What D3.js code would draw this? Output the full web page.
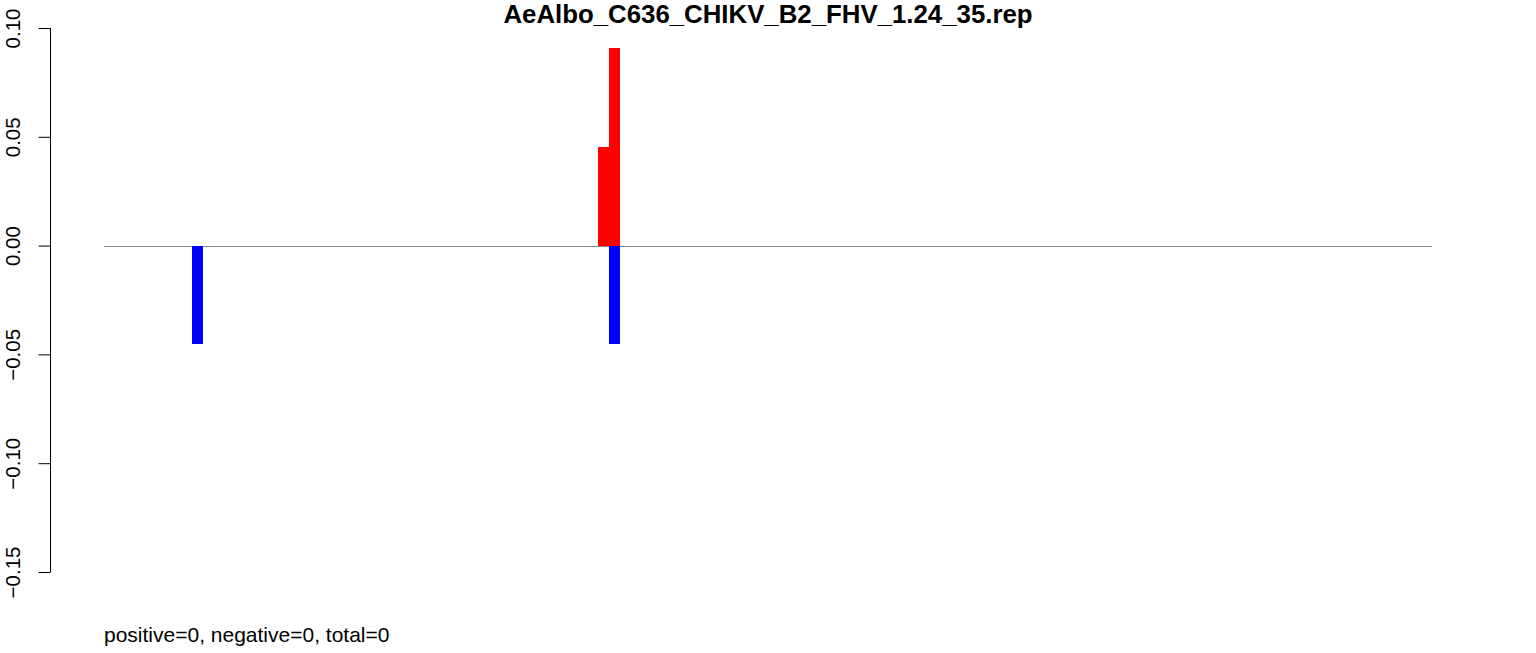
<!DOCTYPE html>
<html>
<head>
<meta charset="utf-8">
<script src="https://cdn.jsdelivr.net/npm/d3@7"></script>
<style>
  html, body { margin: 0; padding: 0; background: #fff; }
  svg { display: block; }
  text { font-family: "Liberation Sans", Arial, Helvetica, sans-serif; }
</style>
</head>
<body>
<svg id="chart" width="1536" height="653"></svg>
<script>
// ---- data ----
const title = "AeAlbo_C636_CHIKV_B2_FHV_1.24_35.rep";
const footer = "positive=0, negative=0, total=0";
const nPositions = 121;
const positiveIndex = [45, 46];
const positiveValues = [0.04545, 0.09091];
const negativeIndex = [8, 46];
const negativeValues = [-0.04545, -0.04545];
const yTicks = [-0.15, -0.10, -0.05, 0.00, 0.05, 0.10];
const yTickLabels = ["\u22120.15", "\u22120.10", "\u22120.05", "0.00", "0.05", "0.10"];

// ---- drawing ----
const svg = d3.select("#chart");
const x = d3.scaleLinear().domain([0, nPositions]).range([104, 1432]);
const y = d3.scaleLinear().domain([-0.15, 0.10]).range([572, 28]);

// baseline
svg.append("line")
  .attr("x1", x(0)).attr("x2", x(nPositions))
  .attr("y1", Math.round(y(0)) + 0.5).attr("y2", Math.round(y(0)) + 0.5)
  .attr("stroke", "#8a8a8a").attr("stroke-width", 1);

const pos = positiveIndex.map((d, i) => ({ i: d, v: positiveValues[i] }));
const neg = negativeIndex.map((d, i) => ({ i: d, v: negativeValues[i] }));

svg.append("g").selectAll("rect").data(pos).join("rect")
  .attr("x", d => x(d.i)).attr("width", d => x(d.i + 1) - x(d.i))
  .attr("y", d => y(d.v)).attr("height", d => y(0) - y(d.v))
  .attr("fill", "#ff0000").attr("shape-rendering", "crispEdges");

svg.append("g").selectAll("rect").data(neg).join("rect")
  .attr("x", d => x(d.i)).attr("width", d => x(d.i + 1) - x(d.i))
  .attr("y", y(0)).attr("height", d => y(d.v) - y(0))
  .attr("fill", "#0000ff").attr("shape-rendering", "crispEdges");

// y axis
const yAxis = d3.axisLeft(y).tickValues(yTicks).tickSize(12)
  .tickFormat((d, i) => yTickLabels[i]);
const gy = svg.append("g").attr("transform", "translate(50.5,0)").call(yAxis);
gy.select(".domain").attr("d", `M0,${y(-0.15)}V${y(0.10)}`).attr("stroke", "#000");
gy.selectAll(".tick line").attr("stroke", "#000").attr("x2", -12);
gy.selectAll(".tick text")
  .attr("font-size", 20.5)
  .attr("fill", "#000")
  .attr("x", null).attr("dy", null)
  .attr("text-anchor", "middle")
  .attr("transform", "translate(-38,0) rotate(-90)")
  .attr("dominant-baseline", "central");

// title
svg.append("text")
  .attr("x", 768).attr("y", 22.5)
  .attr("text-anchor", "middle")
  .attr("font-size", 25.8).attr("font-weight", "bold")
  .text(title);

// footer
svg.append("text")
  .attr("x", 104).attr("y", 642)
  .attr("font-size", 21)
  .text(footer);
</script>
</body>
</html>
